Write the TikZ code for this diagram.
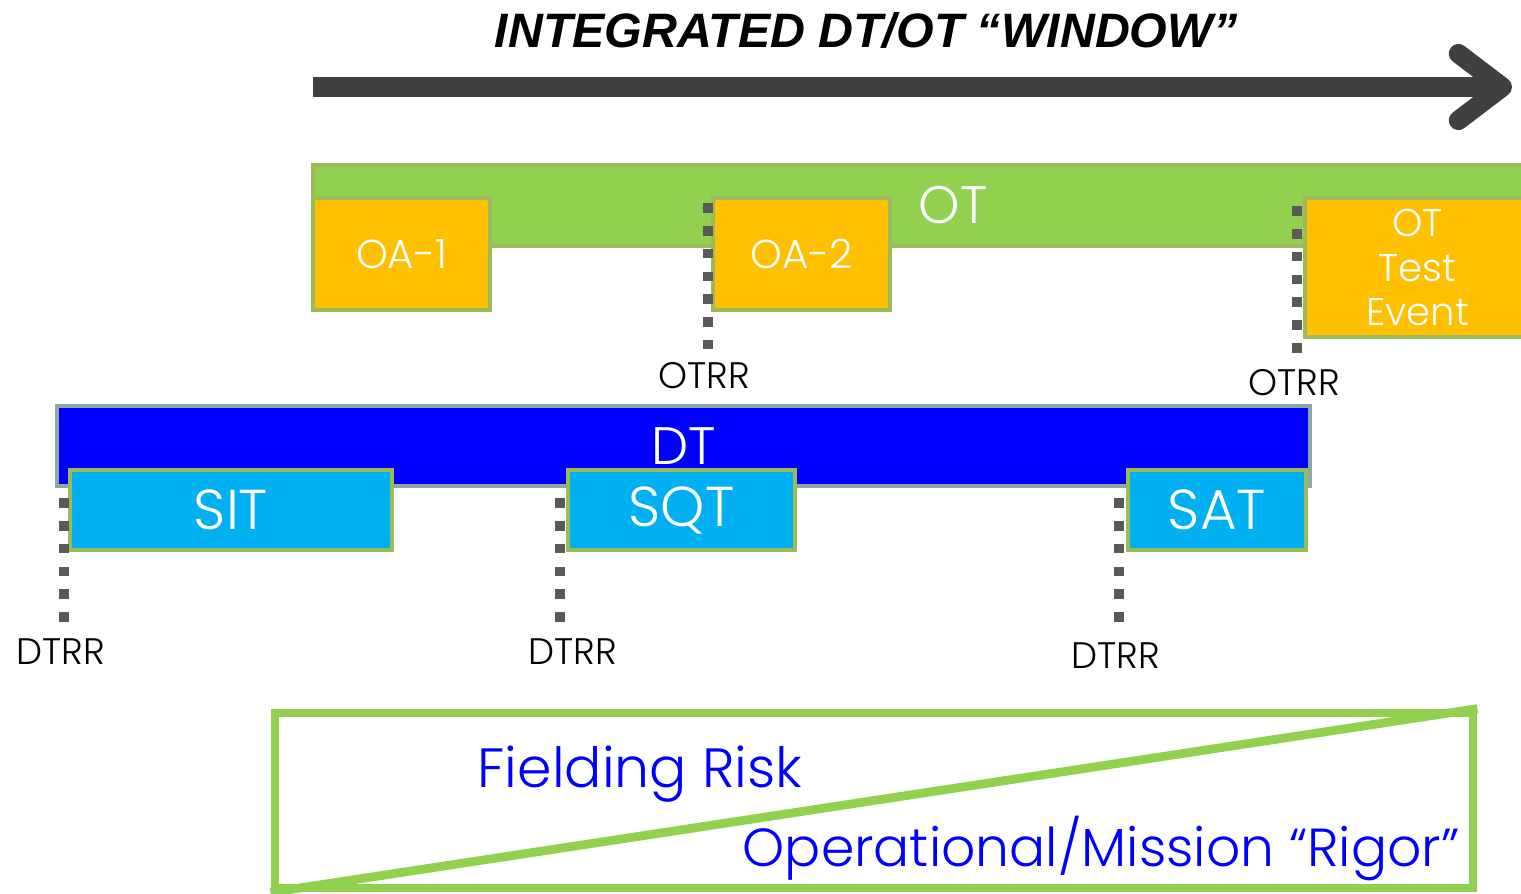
\documentclass[tikz,border=0pt]{standalone}
\usepackage{fontspec}
\setmainfont{Poppins}[UprightFont={* Light}]
\newfontfamily\titlefont{Liberation Sans}
\usepackage{xcolor}
\usetikzlibrary{arrows.meta, positioning}
\definecolor{otgreen}{HTML}{92D050}
\definecolor{boxedge}{HTML}{9BBB59}
\definecolor{oaorange}{HTML}{FFC000}
\definecolor{dtblue}{HTML}{0000FF}
\definecolor{dtedge}{HTML}{8EA8A8}
\definecolor{dtcyan}{HTML}{00B0F0}
\definecolor{arrowgray}{HTML}{404040}
\definecolor{dotgray}{HTML}{5A5A5A}
\newcommand{\pxu}{0.02cm}
\tikzstyle{bar} = [rectangle, inner sep=0pt, text=white, line width=2pt, align=center]
\tikzstyle{otbar} = [bar, draw=boxedge, fill=otgreen, minimum height=81*\pxu, font=\fontsize{30}{32}\selectfont]
\tikzstyle{oabox} = [bar, draw=boxedge, fill=oaorange, minimum width=177*\pxu, minimum height=112*\pxu, font=\fontsize{23}{25}\selectfont]
\tikzstyle{dtbar} = [bar, draw=dtedge, fill=dtblue, minimum width=1253*\pxu, minimum height=80*\pxu, font=\fontsize{30}{32}\selectfont]
\tikzstyle{dtbox} = [bar, draw=boxedge, fill=dtcyan, minimum height=80*\pxu, font=\fontsize{32}{34}\selectfont]
\tikzstyle{rrlabel} = [anchor=base, inner sep=1pt, font=\fontsize{21}{23}\selectfont]
\tikzstyle{rrline} = [draw=dotgray, line width=5.5pt, dash pattern=on 5.5pt off 7.5pt, shorten >=6pt]
\tikzstyle{timearrow} = [line width=11pt, draw=arrowgray, -{Straight Barb[length=25pt, width=38pt, round]}]
\tikzstyle{risktext} = [anchor=base, text=dtblue, inner sep=0pt, font=\fontsize{30.5}{33}\selectfont]

\begin{document}
\begin{tikzpicture}[x=\pxu, y=-\pxu]
\clip (0,0) rectangle (1521,893);

% Window arrow
\node (title) [anchor=base, font=\titlefont\bfseries\itshape\fontsize{27.5}{30}\selectfont] at (866,47) {INTEGRATED DT/OT “WINDOW”};
\coordinate (winstart) at (313,87);
\coordinate (winend) at (1512,87);
\draw [timearrow] (winstart) -- (winend);

% OT blocks
\node (ot) [otbar, minimum width=1280*\pxu] at (953,205.5) {OT};
\node (oa1) [oabox] at (401.5,254) {OA-1};
\node (oa2) [oabox] at (801.5,254) {OA-2};
\node (otevent) [oabox, minimum width=225*\pxu, minimum height=139*\pxu, font=\fontsize{22}{25.5}\selectfont] at (1417.5,267.5) {OT\\Test\\Event};

% DT blocks
\node (dt) [dtbar] at (683.5,446) {DT};
\node (sit) [dtbox, minimum width=322*\pxu] at (231,510) {SIT};
\node (sqt) [dtbox, minimum width=227*\pxu] at (681.5,510) {SQT};
\node (sat) [dtbox, minimum width=178*\pxu] at (1217,510) {SAT};

% Readiness reviews
\node (otrra) [rrlabel] at (704,388) {OTRR};
\node (otrrb) [rrlabel] at (1294,395) {OTRR};
\node (dtrra) [rrlabel] at (61,664) {DTRR};
\node (dtrrb) [rrlabel] at (573,664) {DTRR};
\node (dtrrc) [rrlabel] at (1116,668) {DTRR};
\coordinate (otrratop) at (708,203);
\coordinate (otrrbtop) at (1297,206);
\coordinate (dtrratop) at (64,498);
\coordinate (dtrrbtop) at (560,498);
\coordinate (dtrrctop) at (1119,498);
\draw [rrline] (otrratop) -- (otrratop |- otrra.north);
\draw [rrline] (otrrbtop) -- (otrrbtop |- otrrb.north);
\draw [rrline] (dtrratop) -- (dtrratop |- dtrra.north);
\draw [rrline] (dtrrbtop) -- (dtrrbtop |- dtrrb.north);
\draw [rrline] (dtrrctop) -- (dtrrctop |- dtrrc.north);

% Risk vs rigor
\node (riskbox) [draw=otgreen, line width=5pt, minimum width=1198*\pxu, minimum height=175*\pxu] at (874,800.5) {};
\draw [draw=otgreen, line width=5pt] (riskbox.south west) -- (riskbox.north east);
\node (fielding) [risktext, font=\fontsize{31.5}{33}\selectfont] at (640,787) {Fielding Risk};
\node (rigor) [risktext] at (1101,866) {Operational/Mission “Rigor”};

\end{tikzpicture}
\end{document}
